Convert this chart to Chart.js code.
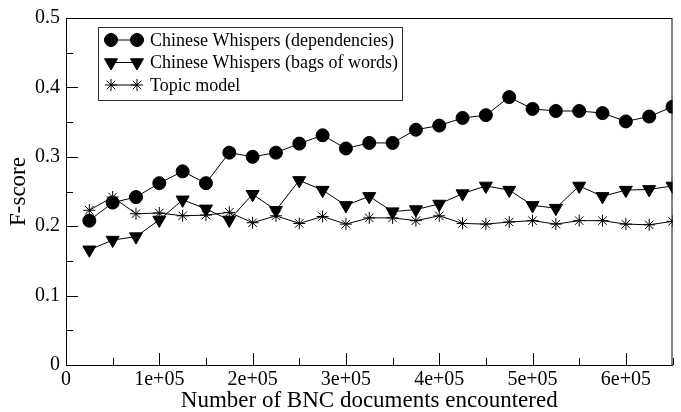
<!DOCTYPE html>
<html>
<head>
<meta charset="utf-8">
<script src="https://cdn.jsdelivr.net/npm/chart.js@4/dist/chart.umd.min.js"></script>
<style>
  html, body { margin: 0; padding: 0; background: #fff; }
  #wrap { width: 681px; height: 412px; }
</style>
</head>
<body>
<div id="wrap"><canvas id="fChart" width="681" height="412"></canvas></div>
<script>
// values
const docs = [25000, 50000, 75000, 100000, 125000, 150000, 175000, 200000, 225000, 250000,
              275000, 300000, 325000, 350000, 375000, 400000, 425000, 450000, 475000, 500000,
              525000, 550000, 575000, 600000, 625000, 650000];
const cwDeps = [0.208, 0.234, 0.242, 0.262, 0.279, 0.262, 0.306, 0.300, 0.306, 0.319,
                0.331, 0.312, 0.320, 0.320, 0.339, 0.345, 0.356, 0.360, 0.386, 0.369,
                0.366, 0.366, 0.363, 0.351, 0.358, 0.372];
const cwBow = [0.166, 0.180, 0.185, 0.209, 0.238, 0.225, 0.209, 0.246, 0.223, 0.266,
               0.252, 0.230, 0.243, 0.221, 0.224, 0.232, 0.247, 0.258, 0.252, 0.230,
               0.226, 0.258, 0.243, 0.252, 0.253, 0.258];
const topicModel = [0.223, 0.242, 0.218, 0.219, 0.215, 0.216, 0.220, 0.205, 0.215, 0.204,
                    0.214, 0.203, 0.212, 0.212, 0.208, 0.215, 0.204, 0.203, 0.206, 0.208,
                    0.203, 0.208, 0.208, 0.203, 0.202, 0.207];
const seriesNames = ['Chinese Whispers (dependencies)', 'Chinese Whispers (bags of words)', 'Topic model'];
const xTickLabels = {0: '0', 100000: '1e+05', 200000: '2e+05', 300000: '3e+05', 400000: '4e+05', 500000: '5e+05', 600000: '6e+05'};
const yTickLabels = {0: '0', 1: '0.1', 2: '0.2', 3: '0.3', 4: '0.4', 5: '0.5'};

const serif = '"Liberation Serif", "DejaVu Serif", serif';

function pts(ys) {
    return docs.map((x, i) => ({ x: x, y: ys[i] }));
}

// inward ticks + box frame
const frameTicks = {
    id: 'frameTicks',
    afterDraw(chart) {
        const ctx = chart.ctx, a = chart.chartArea;
        const xs = chart.scales.x, ys = chart.scales.y;
        ctx.save();
        ctx.strokeStyle = '#000';
        ctx.lineWidth = 1;
        ctx.strokeRect(a.left + 0.5, a.top + 0.5, a.right - a.left - 1, a.bottom - a.top);
        ctx.beginPath();
        for (let v = 0; v <= 650000; v += 50000) {
            const px = Math.round(xs.getPixelForValue(v)) + 0.5;
            const len = (v % 100000 === 0) ? 12 : 7;
            ctx.moveTo(px, a.bottom);
            ctx.lineTo(px, a.bottom - len);
        }
        for (let k = 0; k <= 10; k++) {
            const py = Math.round(ys.getPixelForValue(k * 0.05)) + 0.5;
            const len = (k % 2 === 0) ? 12 : 7;
            ctx.moveTo(a.left, py);
            ctx.lineTo(a.left + len, py);
        }
        ctx.stroke();
        ctx.restore();
    }
};

// legend with marker-line-marker samples
const boxLegend = {
    id: 'boxLegend',
    afterDraw(chart) {
        const ctx = chart.ctx;
        ctx.save();
        ctx.fillStyle = '#fff';
        ctx.fillRect(98, 27, 304, 73);
        ctx.strokeStyle = '#333';
        ctx.lineWidth = 1;
        ctx.strokeRect(98.5, 27.5, 304, 73);
        ctx.font = '18px ' + serif;
        ctx.textBaseline = 'middle';
        chart.data.datasets.forEach((ds, i) => {
            const y = 40 + i * 22.5;
            ctx.strokeStyle = '#000';
            ctx.beginPath();
            ctx.moveTo(111, y);
            ctx.lineTo(137, y);
            ctx.stroke();
            const opt = {
                pointStyle: ds.pointStyle, radius: ds.pointRadius, rotation: ds.pointRotation || 0,
                borderWidth: ds.pointBorderWidth || 1
            };
            ctx.fillStyle = '#000';
            ctx.strokeStyle = '#000';
            ctx.lineWidth = opt.borderWidth;
            Chart.helpers.drawPoint(ctx, opt, 111, y);
            ctx.fillStyle = '#000';
            ctx.strokeStyle = '#000';
            Chart.helpers.drawPoint(ctx, opt, 137, y);
            ctx.fillStyle = '#000';
            ctx.fillText(ds.label, 150, y + 1);
        });
        ctx.restore();
    }
};

const ctx = document.getElementById('fChart').getContext('2d');
new Chart(ctx, {
    type: 'scatter',
    data: {
        datasets: [{
            label: seriesNames[0],
            data: pts(cwDeps),
            showLine: true,
            borderColor: '#000',
            borderWidth: 1,
            backgroundColor: '#000',
            pointStyle: 'circle',
            pointRadius: 6.5,
            pointBorderWidth: 1
        }, {
            label: seriesNames[1],
            data: pts(cwBow),
            showLine: true,
            borderColor: '#000',
            borderWidth: 1,
            backgroundColor: '#000',
            pointStyle: 'triangle',
            pointRotation: 180,
            pointRadius: 7.5,
            pointBorderWidth: 1
        }, {
            label: seriesNames[2],
            data: pts(topicModel),
            showLine: true,
            borderColor: '#000',
            borderWidth: 1,
            backgroundColor: '#000',
            pointStyle: 'star',
            pointRadius: 6,
            pointBorderWidth: 1
        }]
    },
    options: {
        responsive: false,
        animation: false,
        layout: { padding: { top: 14, right: 8, left: 0, bottom: 0 } },
        plugins: { legend: { display: false }, tooltip: { enabled: false } },
        scales: {
            x: {
                type: 'linear',
                min: 0,
                max: 650000,
                grid: { drawOnChartArea: false, drawTicks: false },
                border: { display: true, color: '#000', width: 1 },
                ticks: {
                    stepSize: 50000,
                    autoSkip: false,
                    maxRotation: 0,
                    padding: 3,
                    color: '#000',
                    font: { family: serif, size: 20 },
                    callback: v => (xTickLabels[v] !== undefined ? xTickLabels[v] : '')
                },
                title: {
                    display: true,
                    text: 'Number of BNC documents encountered',
                    color: '#000',
                    font: { family: serif, size: 23 },
                    padding: { top: -6, bottom: -3 }
                },
                afterFit(scale) { scale.height = 47; }
            },
            y: {
                min: 0,
                max: 0.5,
                grid: { drawOnChartArea: false, drawTicks: false },
                border: { display: true, color: '#000', width: 1 },
                ticks: {
                    stepSize: 0.05,
                    autoSkip: false,
                    padding: 6,
                    color: '#000',
                    font: { family: serif, size: 20 },
                    callback: v => {
                        const k = Math.round(v * 20);
                        return k % 2 === 0 ? yTickLabels[k / 2] : '';
                    }
                },
                title: {
                    display: true,
                    text: 'F-score',
                    color: '#000',
                    font: { family: serif, size: 23 },
                    padding: { top: 5, bottom: 0 }
                },
                afterFit(scale) { scale.width = 66; }
            }
        }
    },
    plugins: [frameTicks, boxLegend]
});
</script>
</body>
</html>
